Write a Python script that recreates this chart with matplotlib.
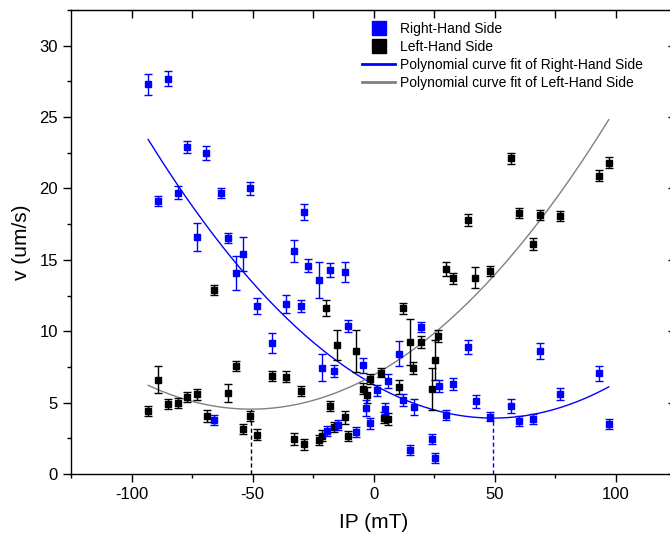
import numpy as np
import matplotlib
matplotlib.use("Agg")
import matplotlib.pyplot as plt
from matplotlib.lines import Line2D
from matplotlib.ticker import MultipleLocator

plt.rcParams['font.family'] = ['Liberation Sans', 'DejaVu Sans']
plt.rcParams['axes.unicode_minus'] = False

# Right-Hand Side measurements (IP in mT, v in um/s, error)
rhs_ip = [-93.1, -84.9, -88.9, -80.9, -76.9, -73.1, -69.1, -65.9, -63.0, -60.0,
          -56.9, -53.9, -50.9, -48.0, -41.9, -36.0, -33.0, -30.0, -28.6, -26.9,
          -22.5, -21.2, -19.3, -18.0, -16.4, -14.8, -11.9, -10.4, -7.4, -4.5,
          -3.0, -1.4, 1.4, 4.6, 6.0, 10.5, 12.1, 15.1, 16.6, 19.5,
          24.2, 25.4, 27.1, 30.0, 33.0, 39.1, 42.2, 48.0, 56.8, 60.0,
          66.0, 68.9, 76.9, 93.0, 97.2]
rhs_v = [27.3, 27.7, 19.1, 19.7, 22.9, 16.6, 22.5, 3.76, 19.7, 16.5,
         14.1, 15.4, 20.0, 11.75, 9.2, 11.9, 15.6, 11.8, 18.36, 14.6,
         13.6, 7.45, 2.99, 14.3, 7.2, 3.41, 14.15, 10.35, 2.97, 7.6,
         4.62, 3.55, 5.86, 4.58, 6.54, 8.43, 5.16, 1.70, 4.7, 10.3,
         2.45, 1.1, 6.14, 4.13, 6.31, 8.88, 5.09, 4.02, 4.77, 3.72,
         3.83, 8.62, 5.6, 7.05, 3.5]
rhs_err = [0.72, 0.5, 0.36, 0.45, 0.43, 1.0, 0.5, 0.34, 0.34, 0.35,
           1.2, 1.2, 0.48, 0.57, 0.69, 0.63, 0.77, 0.42, 0.54, 0.44,
           1.25, 0.93, 0.35, 0.49, 0.42, 0.35, 0.7, 0.42, 0.35, 0.5,
           0.54, 0.4, 0.37, 0.37, 0.49, 0.87, 0.42, 0.34, 0.57, 0.35,
           0.35, 0.35, 0.42, 0.34, 0.44, 0.5, 0.46, 0.34, 0.49, 0.37,
           0.36, 0.54, 0.4, 0.51, 0.35]

# Left-Hand Side measurements
lhs_ip = [-93.1, -89.1, -84.9, -80.9, -76.9, -73.1, -68.9, -65.9, -60.0, -56.9,
          -53.8, -50.9, -48.0, -41.9, -36.0, -33.0, -30.0, -28.6, -22.4, -21.2,
          -19.5, -18.0, -16.4, -15.0, -11.9, -10.4, -7.4, -4.3, -2.8, -1.4,
          3.1, 4.5, 5.9, 10.5, 12.1, 15.1, 16.4, 19.5, 24.0, 25.4,
          26.8, 30.0, 33.0, 39.0, 42.1, 48.0, 56.9, 60.0, 66.0, 68.9,
          76.9, 93.0, 97.2]
lhs_v = [4.39, 6.6, 4.88, 4.95, 5.37, 5.58, 4.06, 12.9, 5.68, 7.55,
         3.15, 4.06, 2.76, 6.85, 6.82, 2.45, 5.84, 2.08, 2.38, 2.69,
         11.6, 4.74, 3.27, 9.04, 3.97, 2.64, 8.62, 5.98, 5.51, 6.68,
         7.08, 3.95, 3.85, 6.1, 11.6, 9.23, 7.4, 9.25, 5.94, 8.01,
         9.65, 14.35, 13.7, 17.8, 13.76, 14.2, 22.1, 18.27, 16.1, 18.15,
         18.08, 20.9, 21.8]
lhs_err = [0.36, 0.96, 0.36, 0.36, 0.35, 0.39, 0.39, 0.35, 0.63, 0.35,
           0.35, 0.35, 0.36, 0.36, 0.36, 0.39, 0.35, 0.39, 0.33, 0.37,
           0.56, 0.35, 0.35, 1.04, 0.46, 0.35, 1.45, 0.37, 0.55, 0.35,
           0.32, 0.4, 0.39, 0.5, 0.41, 1.6, 0.42, 0.41, 1.46, 1.4,
           0.42, 0.47, 0.36, 0.41, 0.75, 0.35, 0.36, 0.37, 0.4, 0.34,
           0.34, 0.39, 0.37]

blue = '#0000FF'
gray = '#808080'

fig = plt.figure(figsize=(6.7, 5.43), dpi=100)
ax = fig.add_axes([71 / 670, 69 / 543, 605 / 670, 464 / 543])

# quadratic fits, weighted by the error bars
def quad_fit(x, y, e):
    c = np.polyfit(x, y, 2, w=1 / np.array(e))
    xs = np.linspace(min(x), max(x), 200)
    xv = -c[1] / (2 * c[0])
    return xs, np.polyval(c, xs), xv, np.polyval(c, xv)

bx, by, bxv, byv = quad_fit(rhs_ip, rhs_v, rhs_err)
kx, ky, kxv, kyv = quad_fit(lhs_ip, lhs_v, lhs_err)

# dashed markers at the minimum of each fit
ax.vlines(bxv, 0, byv, colors=blue, linestyles=(0, (3, 2)), lw=1, zorder=1)
ax.vlines(kxv, 0, kyv, colors='black', linestyles=(0, (3, 2)), lw=1, zorder=1)

ax.plot(bx, by, color=blue, lw=1, zorder=2)
ax.plot(kx, ky, color=gray, lw=1, zorder=2)

ax.errorbar(lhs_ip, lhs_v, yerr=lhs_err, fmt='s', color='black', ms=3.8,
            elinewidth=1, capsize=3, capthick=1, zorder=3)
ax.errorbar(rhs_ip, rhs_v, yerr=rhs_err, fmt='s', color=blue, ms=3.8,
            elinewidth=1, capsize=3, capthick=1, zorder=4)

ax.set_xlim(-125, 125)
ax.set_ylim(0, 32.5)
ax.xaxis.set_major_locator(MultipleLocator(50))
ax.xaxis.set_minor_locator(MultipleLocator(25))
ax.yaxis.set_major_locator(MultipleLocator(5))
ax.yaxis.set_minor_locator(MultipleLocator(2.5))
ax.tick_params(which='major', direction='out', length=6, width=1, labelsize=12)
ax.tick_params(which='minor', direction='out', length=3, width=1)
for s in ax.spines.values():
    s.set_linewidth(1)

top = ax.secondary_xaxis('top')
top.set_xticks(np.arange(-100, 101, 25))
top.tick_params(direction='in', length=6, width=1, labeltop=False)
right = ax.secondary_yaxis('right')
right.set_yticks(np.arange(0, 31, 5))
right.tick_params(direction='in', length=6, width=1, labelright=False)

ax.set_xlabel('IP (mT)', fontsize=15, labelpad=8)
ax.set_ylabel('v (um/s)', fontsize=15, labelpad=6)

handles = [
    Line2D([], [], marker='s', color=blue, ls='none', ms=10),
    Line2D([], [], marker='s', color='black', ls='none', ms=10),
    Line2D([], [], color=blue, lw=2),
    Line2D([], [], color=gray, lw=2),
]
labels = ['Right-Hand Side', 'Left-Hand Side',
          'Polynomial curve fit of Right-Hand Side',
          'Polynomial curve fit of Left-Hand Side']
fig.legend(handles, labels, loc='upper left', bbox_to_anchor=(362 / 670, 1 - 21.5 / 543),
           frameon=False, fontsize=10, borderpad=0, handlelength=2.4,
           handletextpad=0.3, labelspacing=0.3, borderaxespad=0)

fig.savefig('out.png', dpi=100)
